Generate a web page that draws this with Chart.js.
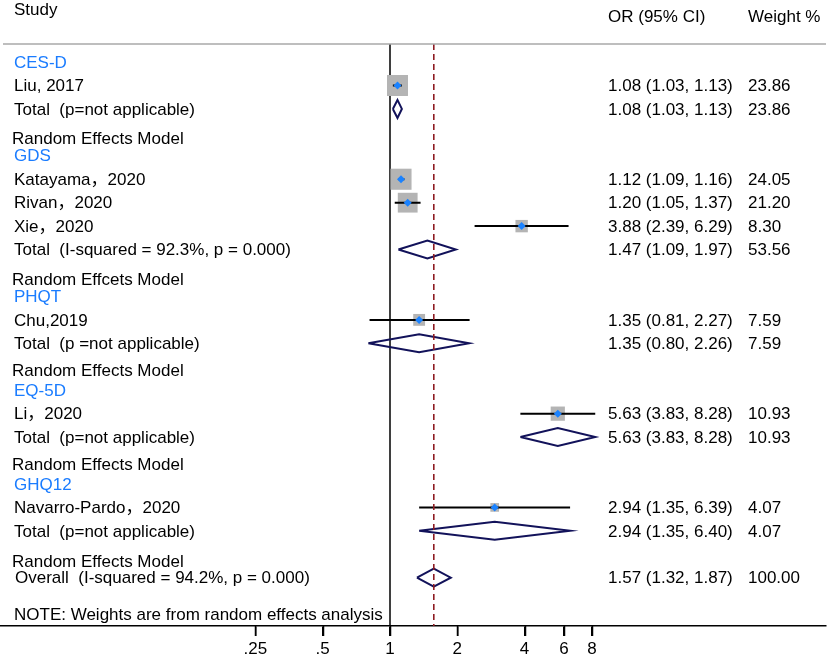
<!DOCTYPE html>
<html><head><meta charset="utf-8">
<script src="https://cdn.jsdelivr.net/npm/chart.js@4/dist/chart.umd.min.js"></script>
<style>html,body{margin:0;padding:0;background:#fff}#wrap{width:829px;height:658px;position:relative}</style>
</head><body><div id="wrap"><canvas id="c"></canvas></div>
<script>
// ---------- data ----------
const groupNames = ['CES-D', 'GDS', 'PHQT', 'EQ-5D', 'GHQ12'];
const groupRows = [1, 5, 11, 15, 19];

const studyNames = ['Liu, 2017', 'Katayama\uFF0C2020', 'Rivan\uFF0C2020', 'Xie\uFF0C2020', 'Chu,2019', 'Li\uFF0C2020', 'Navarro-Pardo\uFF0C2020'];
const studyRows = [2, 6, 7, 8, 12, 16, 20];
const studyOR = [1.08, 1.12, 1.20, 3.88, 1.35, 5.63, 2.94];
const studyLo = [1.03, 1.09, 1.05, 2.39, 0.81, 3.83, 1.35];
const studyHi = [1.13, 1.16, 1.37, 6.29, 2.27, 8.28, 6.39];
const studyW = [23.86, 24.05, 21.20, 8.30, 7.59, 10.93, 4.07];

const totalNames = ['Total  (p=not applicable)', 'Total  (I-squared = 92.3%, p = 0.000)', 'Total  (p =not applicable)', 'Total  (p=not applicable)', 'Total  (p=not applicable)', 'Overall  (I-squared = 94.2%, p = 0.000)'];
const totalRows = [3, 9, 13, 17, 21, 23];
const totalOR = [1.08, 1.47, 1.35, 5.63, 2.94, 1.57];
const totalLo = [1.03, 1.09, 0.80, 3.83, 1.35, 1.32];
const totalHi = [1.13, 1.97, 2.26, 8.28, 6.40, 1.87];
const totalW = [23.86, 53.56, 7.59, 10.93, 4.07, 100.00];

const modelNames = ['Random Effects Model', 'Random Effcets Model', 'Random Effects Model', 'Random Effects Model', 'Random Effects Model'];
const modelRows = [4.24, 10.26, 14.14, 18.15, 22.31];

const noteText = 'NOTE: Weights are from random effects analysis';
const noteRow = 24.55;

const tickValues = [0.25, 0.5, 1, 2, 4, 6, 8];
const tickLabels = ['.25', '.5', '1', '2', '4', '6', '8'];

const headers = ['Study', 'OR (95% CI)', 'Weight %'];

// ---------- layout constants ----------
const FAMILY = '"Liberation Sans", Arial, "Noto Sans CJK SC", sans-serif';
const FONT = '17px ' + FAMILY;
const X_ONE_PX = 390, PX_PER_DOUBLING = 67.3, AREA_W = 826;
const xMin = Math.pow(2, -X_ONE_PX / PX_PER_DOUBLING);
const xMax = Math.pow(2, (AREA_W - X_ONE_PX) / PX_PER_DOUBLING);
const ROW0_PX = 38.6, ROW_H = 23.44, AREA_H = 626;
const yMin = -ROW0_PX / ROW_H, yMax = (AREA_H - ROW0_PX) / ROW_H;
const TOP_RULE_ROW = (44 - ROW0_PX) / ROW_H;
const DIAMOND_HALF = 9 / ROW_H;
const BOX_K = 4.3;
const TICK_LEN = 10;

const fmt = v => v.toFixed(2);
const ciText = (o, l, h) => fmt(o) + ' (' + fmt(l) + ', ' + fmt(h) + ')';

// ---------- datasets built from data ----------
const boxData = studyRows.map((r, i) => ({ x: studyOR[i], y: r }));
const ciData = [];
studyRows.forEach((r, i) => { ciData.push({ x: studyLo[i], y: r }, { x: studyHi[i], y: r }, { x: null, y: null }); });
const diamondData = [];
totalRows.forEach((r, i) => {
  diamondData.push({ x: totalLo[i], y: r }, { x: totalOR[i], y: r - DIAMOND_HALF }, { x: totalHi[i], y: r },
    { x: totalOR[i], y: r + DIAMOND_HALF }, { x: totalLo[i], y: r }, { x: null, y: null });
});
const overallOR = totalOR[totalOR.length - 1];

const textPlugin = {
  id: 'forestText',
  afterDraw(chart) {
    const ctx = chart.ctx, ys = chart.scales.y, xs = chart.scales.x;
    const py = r => ys.getPixelForValue(r) + 1;
    ctx.save();
    // axis tick marks
    ctx.strokeStyle = '#000';
    ctx.lineWidth = 1.5;
    const bottom = chart.chartArea.bottom;
    tickValues.forEach(v => {
      const x = Math.round(xs.getPixelForValue(v)) + 0.5;
      ctx.beginPath();
      ctx.moveTo(x, bottom);
      ctx.lineTo(x, bottom + TICK_LEN);
      ctx.stroke();
    });
    ctx.font = FONT;
    ctx.textBaseline = 'middle';
    ctx.textAlign = 'left';
    // header
    ctx.fillStyle = '#000';
    ctx.fillText(headers[0], 14, 10);
    ctx.fillText(headers[1], 608, 17);
    ctx.fillText(headers[2], 748, 17);
    // top rule
    ctx.strokeStyle = '#a8a8a8';
    ctx.lineWidth = 1.5;
    ctx.beginPath();
    ctx.moveTo(3, ys.getPixelForValue(TOP_RULE_ROW));
    ctx.lineTo(826, ys.getPixelForValue(TOP_RULE_ROW));
    ctx.stroke();
    // groups
    ctx.fillStyle = '#1a7cff';
    groupNames.forEach((t, i) => ctx.fillText(t, 14, py(groupRows[i])));
    ctx.fillStyle = '#000';
    studyNames.forEach((t, i) => {
      ctx.fillText(t, 14, py(studyRows[i]));
      ctx.fillText(ciText(studyOR[i], studyLo[i], studyHi[i]), 608, py(studyRows[i]));
      ctx.fillText(fmt(studyW[i]), 748, py(studyRows[i]));
    });
    totalNames.forEach((t, i) => {
      ctx.fillText(t, i === totalNames.length - 1 ? 15 : 14, py(totalRows[i]));
      ctx.fillText(ciText(totalOR[i], totalLo[i], totalHi[i]), 608, py(totalRows[i]));
      ctx.fillText(fmt(totalW[i]), 748, py(totalRows[i]));
    });
    modelNames.forEach((t, i) => ctx.fillText(t, 12, py(modelRows[i])));
    ctx.fillText(noteText, 14, py(noteRow));
    ctx.restore();
  }
};

Chart.defaults.color = '#000';
Chart.defaults.font.family = FAMILY;
Chart.defaults.font.size = 17;

new Chart(document.getElementById('c'), {
  type: 'scatter',
  data: {
    datasets: [
      { label: 'overall', data: [{ x: overallOR, y: TOP_RULE_ROW }, { x: overallOR, y: yMax }], showLine: true, pointRadius: 0,
        borderColor: '#8e1b22', borderWidth: 1.6, borderDash: [6, 4], order: 1 },
      { label: 'marker', data: boxData, pointStyle: 'rectRot', pointRadius: 4, backgroundColor: '#1a82ff', borderWidth: 0, order: 2 },
      { label: 'ci', data: ciData, showLine: true, pointRadius: 0, borderColor: '#000', borderWidth: 2, spanGaps: false, order: 3 },
      { label: 'box', data: boxData, pointStyle: 'rect', backgroundColor: '#b4b4b4', borderWidth: 0,
        pointRadius: c => BOX_K * Math.sqrt(studyW[c.dataIndex]) / Math.SQRT2, order: 4 },
      { label: 'diamond', data: diamondData, showLine: true, pointRadius: 0, borderColor: '#12125a', borderWidth: 2,
        borderJoinStyle: 'miter', spanGaps: false, order: 5 },
      { label: 'null', data: [{ x: 1, y: TOP_RULE_ROW }, { x: 1, y: yMax }], showLine: true, pointRadius: 0,
        borderColor: '#000', borderWidth: 1.5, order: 6 }
    ]
  },
  options: {
    responsive: true, maintainAspectRatio: false, animation: false,
    layout: { autoPadding: false, padding: { left: 0, right: 3, top: 0, bottom: 0 } },
    plugins: { legend: { display: false }, tooltip: { enabled: false } },
    elements: { point: { hoverRadius: 0 } },
    scales: {
      x: {
        type: 'logarithmic', min: xMin, max: xMax,
        afterBuildTicks: s => { s.ticks = tickValues.map(v => ({ value: v })); },
        afterFit: s => { s.height = 32; },
        grid: { display: true, drawOnChartArea: false, drawTicks: true, tickLength: TICK_LEN, color: '#000', lineWidth: 1.5 },
        border: { display: true, color: '#000', width: 1.5 },
        ticks: { autoSkip: false, maxRotation: 0, padding: 3, color: '#000', font: { size: 17, family: FAMILY },
          callback: (v, i) => tickLabels[i] }
      },
      y: { type: 'linear', reverse: true, min: yMin, max: yMax, display: false }
    }
  },
  plugins: [textPlugin]
});
</script>
</body></html>
